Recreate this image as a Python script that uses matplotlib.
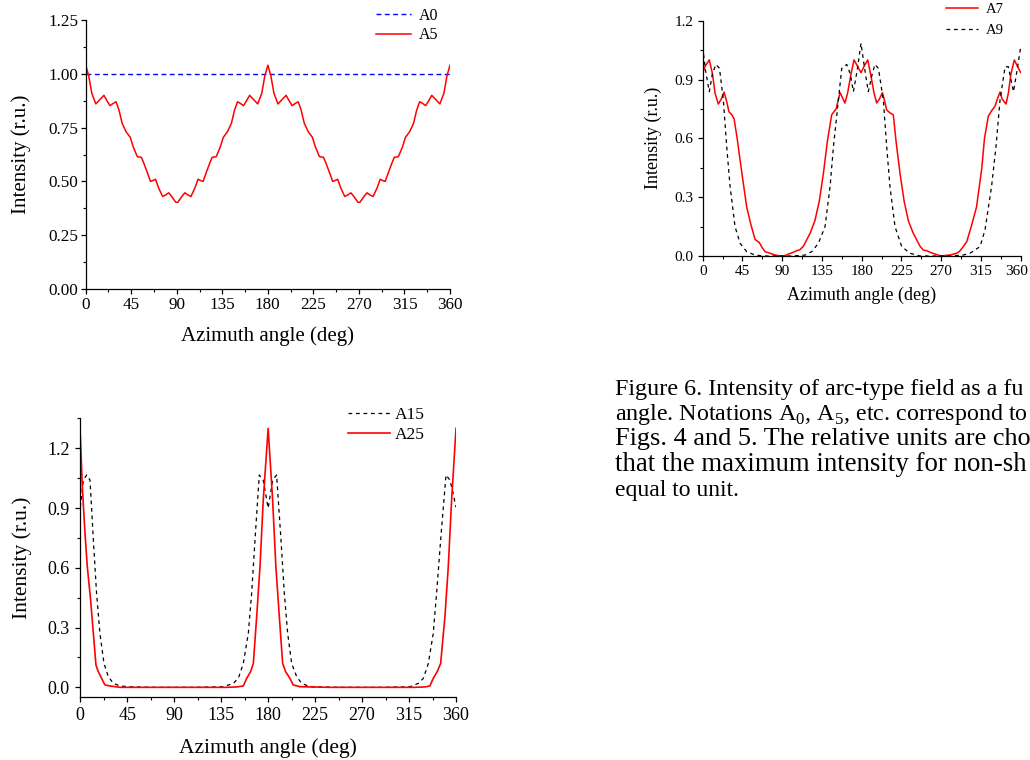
import matplotlib
matplotlib.use('Agg')
import matplotlib.pyplot as plt
from matplotlib.ticker import MultipleLocator, FuncFormatter

plt.rcParams['font.family'] = ['Liberation Serif', 'DejaVu Serif']
plt.rcParams['mathtext.fontset'] = 'custom'
plt.rcParams['mathtext.rm'] = 'Liberation Serif'

# ---- panel 1: A0, A5 ----
a0_x = [0, 360]
a0_y = [1.0, 1.0]

a5_x = [0, 3, 6, 10, 14, 18, 21, 24, 27, 30, 33, 36, 40, 44, 47, 51, 55, 57, 61, 64,
        67, 69, 72, 76, 79, 82, 85, 89,
        91, 95, 98, 101, 104, 108, 111, 113, 116, 119, 123, 125, 129, 133, 136, 140, 144,
        147, 150, 153, 156, 159, 162, 166, 170, 174, 177,
        180, 183, 186, 190, 194, 198, 201, 204, 207, 210, 213, 216, 220, 224, 227, 231,
        235, 237, 241, 244, 247, 249, 252, 256, 259, 262, 265, 269,
        271, 275, 278, 281, 284, 288, 291, 293, 296, 299, 303, 305, 309, 313, 316, 320,
        324, 327, 330, 333, 336, 339, 342, 346, 350, 354, 357, 360]
a5_y = [1.04, 0.99, 0.91, 0.86, 0.88, 0.90, 0.875, 0.852, 0.862, 0.87, 0.83, 0.77, 0.73, 0.705, 0.66, 0.615, 0.612, 0.59, 0.54, 0.50,
        0.505, 0.51, 0.47, 0.43, 0.437, 0.447, 0.43, 0.403,
        0.403, 0.43, 0.447, 0.437, 0.43, 0.47, 0.51, 0.505, 0.50, 0.54, 0.59, 0.612, 0.615, 0.66, 0.705, 0.73, 0.77,
        0.83, 0.87, 0.862, 0.852, 0.875, 0.90, 0.88, 0.86, 0.91, 0.99,
        1.04, 0.99, 0.91, 0.86, 0.88, 0.90, 0.875, 0.852, 0.862, 0.87, 0.83, 0.77, 0.73, 0.705, 0.66, 0.615,
        0.612, 0.59, 0.54, 0.50, 0.505, 0.51, 0.47, 0.43, 0.437, 0.447, 0.43, 0.403,
        0.403, 0.43, 0.447, 0.437, 0.43, 0.47, 0.51, 0.505, 0.50, 0.54, 0.59, 0.612, 0.615, 0.66, 0.705, 0.73,
        0.77, 0.83, 0.87, 0.862, 0.852, 0.875, 0.90, 0.88, 0.86, 0.91, 0.99, 1.04]

# ---- panel 2: A7, A9 ----
a7_x = [0, 3, 7.5, 11, 14, 17.7, 21, 24.2, 27, 29.8,
        33, 35.5, 39, 42.3, 46, 49.8, 54, 59.2, 64.2, 67,
        70.6, 76.2, 81.9, 86, 90.6, 95, 97, 102, 106.4, 110,
        114, 117.7, 122, 127, 132, 136.6, 141, 146, 151, 155.5,
        158, 161, 164, 168, 171.3, 175, 179.2, 183, 186.8, 190,
        194, 197, 200, 203.4, 206, 208.3, 212, 215.8, 219, 223.4,
        228, 232.8, 238, 242.3, 246, 249.8, 253.6, 258, 263, 267,
        270.6, 275, 280, 287.5, 291, 295, 298.9, 304, 310, 316,
        319, 323.4, 327, 331, 333.5, 336.6, 339, 343.4, 346, 349,
        352.8, 356, 360]
a7_y = [0.935, 0.97, 1.0, 0.93, 0.83, 0.775, 0.80, 0.836, 0.79, 0.735,
        0.72, 0.70, 0.60, 0.49, 0.37, 0.25, 0.17, 0.085, 0.068, 0.045,
        0.022, 0.014, 0.005, 0.002, 0.0, 0.005, 0.01, 0.018, 0.027, 0.032,
        0.05, 0.082, 0.12, 0.18, 0.28, 0.42, 0.58, 0.72, 0.75, 0.833,
        0.81, 0.78, 0.83, 0.93, 1.0, 0.97, 0.935, 0.97, 1.0, 0.93,
        0.83, 0.78, 0.80, 0.833, 0.79, 0.745, 0.73, 0.72, 0.58, 0.42,
        0.28, 0.18, 0.12, 0.082, 0.05, 0.03, 0.027, 0.018, 0.01, 0.004,
        0.0, 0.003, 0.005, 0.014, 0.025, 0.048, 0.073, 0.15, 0.25, 0.45,
        0.60, 0.714, 0.74, 0.765, 0.80, 0.836, 0.80, 0.775, 0.83, 0.93,
        1.0, 0.97, 0.935]

a9_x = [0, 3, 7.5, 11, 15, 19, 23.4, 27.2, 31, 36.6,
        42.3, 49.8, 59.2, 68.7, 80, 100, 112, 115.8, 123.4, 131,
        138.5, 144.2, 148, 153.6, 157.4, 163, 167, 170.6, 175, 179.2,
        183.5, 187.5, 192, 195, 198.9, 204.5, 208.3, 212, 217.7, 225.3,
        234.7, 246, 260, 280, 295, 302.6, 314, 319.6, 327, 332,
        336.6, 342.3, 346, 351.8, 356, 360]
a9_y = [1.067, 0.95, 0.838, 0.93, 0.977, 0.957, 0.795, 0.557, 0.354, 0.15,
        0.065, 0.022, 0.005, 0.0, 0.0, 0.0, 0.003, 0.005, 0.022, 0.065,
        0.15, 0.354, 0.557, 0.795, 0.957, 0.977, 0.93, 0.838, 0.95, 1.085,
        0.95, 0.838, 0.93, 0.977, 0.957, 0.795, 0.557, 0.354, 0.15, 0.048,
        0.014, 0.0, 0.0, 0.0, 0.005, 0.014, 0.048, 0.133, 0.354, 0.557,
        0.795, 0.965, 0.965, 0.838, 0.95, 1.067]

# ---- panel 3: A15, A25 ----
a15_x = [0, 2.9, 6.1, 9.3, 12.5, 15.6, 18.8, 22.7, 26.8, 31.6,
         38, 46, 70, 110, 137, 146.6, 151.4, 156.2, 161, 164.2,
         167.4, 171.5, 175.3, 180, 184.3, 188.1, 192.3, 195.5, 198.7, 202.5,
         207.3, 212.1, 220, 250, 290, 315.9, 323.9, 328.7, 333.5, 338.2,
         341.4, 345.3, 350.4, 354.2, 357, 360]
a15_y = [0.904, 1.04, 1.066, 1.04, 0.74, 0.472, 0.271, 0.12, 0.054, 0.02,
         0.007, 0.003, 0.0, 0.0, 0.003, 0.02, 0.045, 0.12, 0.271, 0.472,
         0.74, 1.066, 1.04, 0.90, 1.04, 1.066, 0.74, 0.472, 0.271, 0.12,
         0.054, 0.02, 0.003, 0.0, 0.0, 0.003, 0.02, 0.045, 0.12, 0.271,
         0.472, 0.74, 1.066, 1.04, 0.98, 0.904]

a25_x = [0, 2, 4.5, 6.7, 9.9, 12.5, 15, 17.2, 20.4, 23.6,
         28.4, 38, 60, 100, 140, 150, 156.2, 159.4, 163.2, 165.8,
         169, 172.2, 175.3, 180, 184.3, 187.4, 190.7, 193.9, 196.7, 200.9,
         204, 210.5, 240, 280, 320, 330, 335, 338.2, 342, 345.3,
         349.4, 352.6, 355.8, 360]
a25_y = [1.267, 1.0, 0.773, 0.606, 0.438, 0.271, 0.112, 0.079, 0.045, 0.012,
         0.007, 0.0, 0.0, 0.0, 0.0, 0.002, 0.007, 0.045, 0.079, 0.12,
         0.355, 0.606, 0.94, 1.30, 0.94, 0.606, 0.355, 0.12, 0.079, 0.045,
         0.012, 0.003, 0.0, 0.0, 0.0, 0.002, 0.007, 0.045, 0.079, 0.12,
         0.355, 0.606, 0.94, 1.30]

# caption as far as it is visible on the cropped page
caption = [
    "Figure 6. Intensity of arc-type field as a fu",
    "angle. Notations A$_\\mathrm{0}$, A$_\\mathrm{5}$, etc. correspond to",
    "Figs. 4 and 5. The relative units are cho",
    "that the maximum intensity for non-sh",
    "equal to unit.",
]
caption_sizes = [17.4, 17.3, 18.9, 19.3, 17]

W, H = 1030, 760
fig = plt.figure(figsize=(W / 100, H / 100), dpi=100)


def px_axes(x0, x1, ytop, ybot):
    return fig.add_axes([x0 / W, 1 - ybot / H, (x1 - x0) / W, (ybot - ytop) / H])


def style(ax, ymaj, tick_fs, label_fs, xpad, ypad, tpad=2):
    ax.spines['top'].set_visible(False)
    ax.spines['right'].set_visible(False)
    for s in ('left', 'bottom'):
        ax.spines[s].set_linewidth(0.9)
    ax.set_xlim(0, 360)
    ax.xaxis.set_major_locator(MultipleLocator(45))
    ax.xaxis.set_minor_locator(MultipleLocator(22.5))
    ax.yaxis.set_major_locator(MultipleLocator(ymaj))
    ax.yaxis.set_minor_locator(MultipleLocator(ymaj / 2))
    ax.tick_params(which='major', direction='out', length=3.5, width=0.9,
                   labelsize=tick_fs, pad=tpad)
    ax.tick_params(which='minor', direction='out', length=2, width=0.8)
    ax.set_xlabel('Azimuth angle (deg)', fontsize=label_fs, labelpad=xpad)
    ax.set_ylabel('Intensity (r.u.)', fontsize=label_fs, labelpad=ypad)


# panel 1
ax1 = px_axes(85.7, 450, 20, 289)
ax1.plot(a0_x, a0_y, color='#0000ff', lw=1.0, dashes=(3.5, 2.5), label='A0')
ax1.plot(a5_x, a5_y, color='#ff0000', lw=1.1, label='A5')
ax1.set_ylim(0, 1.25)
style(ax1, 0.25, 12.3, 15, 10, 12)
ax1.yaxis.set_major_formatter(plt.FormatStrFormatter('%.2f'))
ax1.legend(loc='upper left', bbox_to_anchor=(376 / W, 1 - 8 / H),
           bbox_transform=fig.transFigure, frameon=False, fontsize=11.5,
           handlelength=2.2, handletextpad=0.5, labelspacing=0.2,
           borderpad=0, borderaxespad=0)

# panel 2
ax2 = px_axes(702.7, 1020.7, 20.7, 256)
ax2.plot(a7_x, a7_y, color='#ff0000', lw=1.1, label='A7')
ax2.plot(a9_x, a9_y, color='black', lw=0.9, dashes=(3, 3), label='A9')
ax2.set_ylim(0, 1.2)
style(ax2, 0.3, 11, 13, 6, 9, tpad=3)
ax2.yaxis.set_major_formatter(plt.FormatStrFormatter('%.1f'))
ax2.legend(loc='upper left', bbox_to_anchor=(946 / W, 1 - 3 / H),
           bbox_transform=fig.transFigure, frameon=False, fontsize=10.5,
           handlelength=2.2, handletextpad=0.5, labelspacing=0.55,
           borderpad=0, borderaxespad=0)
# the last tick label sits at the page edge: draw it right-aligned so it stays whole
ax2.xaxis.set_major_formatter(FuncFormatter(lambda v, p: '' if v >= 360 else f'{v:g}'))
ax2.annotate('360', xy=(360, 0), xycoords=('data', 'axes fraction'),
             xytext=(5.5, -6.5), textcoords='offset points', ha='right', va='top',
             fontsize=11)

# panel 3
ax3 = px_axes(80.3, 456, 418, 696.7)
ax3.plot(a15_x, a15_y, color='black', lw=0.9, dashes=(3, 3), label='A15')
ax3.plot(a25_x, a25_y, color='#ff0000', lw=1.2, label='A25')
ax3.set_ylim(-0.047, 1.352)
style(ax3, 0.3, 13, 15.5, 10, 11, tpad=4)
ax3.yaxis.set_major_formatter(plt.FormatStrFormatter('%.1f'))
ax3.legend(loc='upper left', bbox_to_anchor=(348 / W, 1 - 407 / H),
           bbox_transform=fig.transFigure, frameon=False, fontsize=12.5,
           handlelength=2.4, handletextpad=0.3, labelspacing=0.2,
           borderpad=0, borderaxespad=0)

for i, line in enumerate(caption):
    fig.text(615 / W, 1 - (395 + i * 25.2) / H, line, fontsize=caption_sizes[i],
             ha='left', va='baseline')

fig.savefig('out.png', dpi=100)
